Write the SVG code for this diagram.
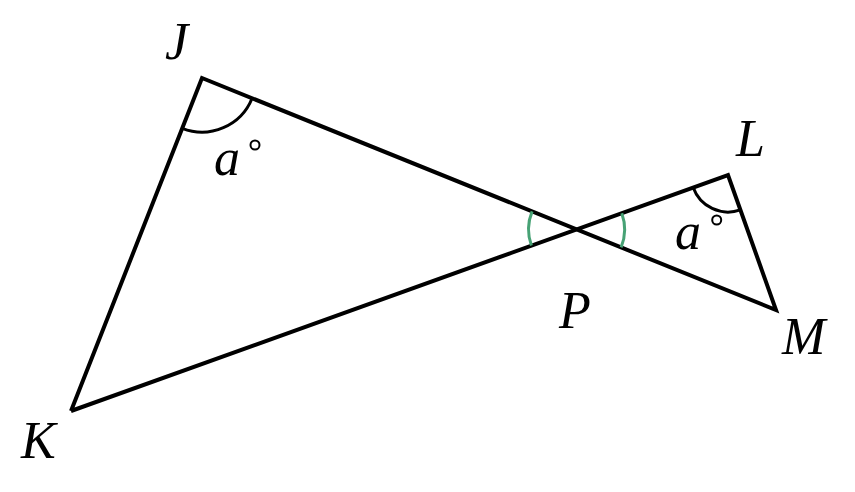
<svg xmlns="http://www.w3.org/2000/svg" width="855" height="492" viewBox="0 0 855 492">
<style>
.edge{fill:none;stroke:#000;stroke-width:4;stroke-linejoin:miter;stroke-linecap:butt}
.arc{fill:none;stroke:#000;stroke-width:3}
.garc{fill:none;stroke:#47a275;stroke-width:3}
.lbl{font-family:"Liberation Serif","Times New Roman",serif;font-style:italic;font-size:52px;fill:#000}
.deg{fill:none;stroke:#000;stroke-width:2}
</style>
<rect width="855" height="492" fill="#fff"/>
<g id="connectors">
<polyline class="edge" points="71,411 202,78 776,310 728,175 71,411"/>
<path class="arc" d="M182.2,128.3 A54,54 0 0 0 252.1,98.2"/>
<path class="arc" d="M693.2,187.5 A37,37 0 0 0 740.4,209.9"/>
<path class="garc" d="M532.1,211.4 A48,48 0 0 0 531.4,245.6"/>
<path class="garc" d="M621.8,213.2 A48,48 0 0 1 621.1,247.4"/>
</g>
<g id="J"><text class="lbl" x="165" y="59">J</text></g>
<g id="K"><text class="lbl" x="21" y="458">K</text></g>
<g id="L"><text class="lbl" x="736" y="156">L</text></g>
<g id="M"><text class="lbl" x="782" y="354">M</text></g>
<g id="P"><text class="lbl" x="559" y="328">P</text></g>
<g id="angleJ"><text class="lbl" x="214" y="175">a</text><circle class="deg" cx="255" cy="145" r="4.5"/></g>
<g id="angleL"><text class="lbl" x="675" y="249">a</text><circle class="deg" cx="716.7" cy="220" r="4.5"/></g>
</svg>
